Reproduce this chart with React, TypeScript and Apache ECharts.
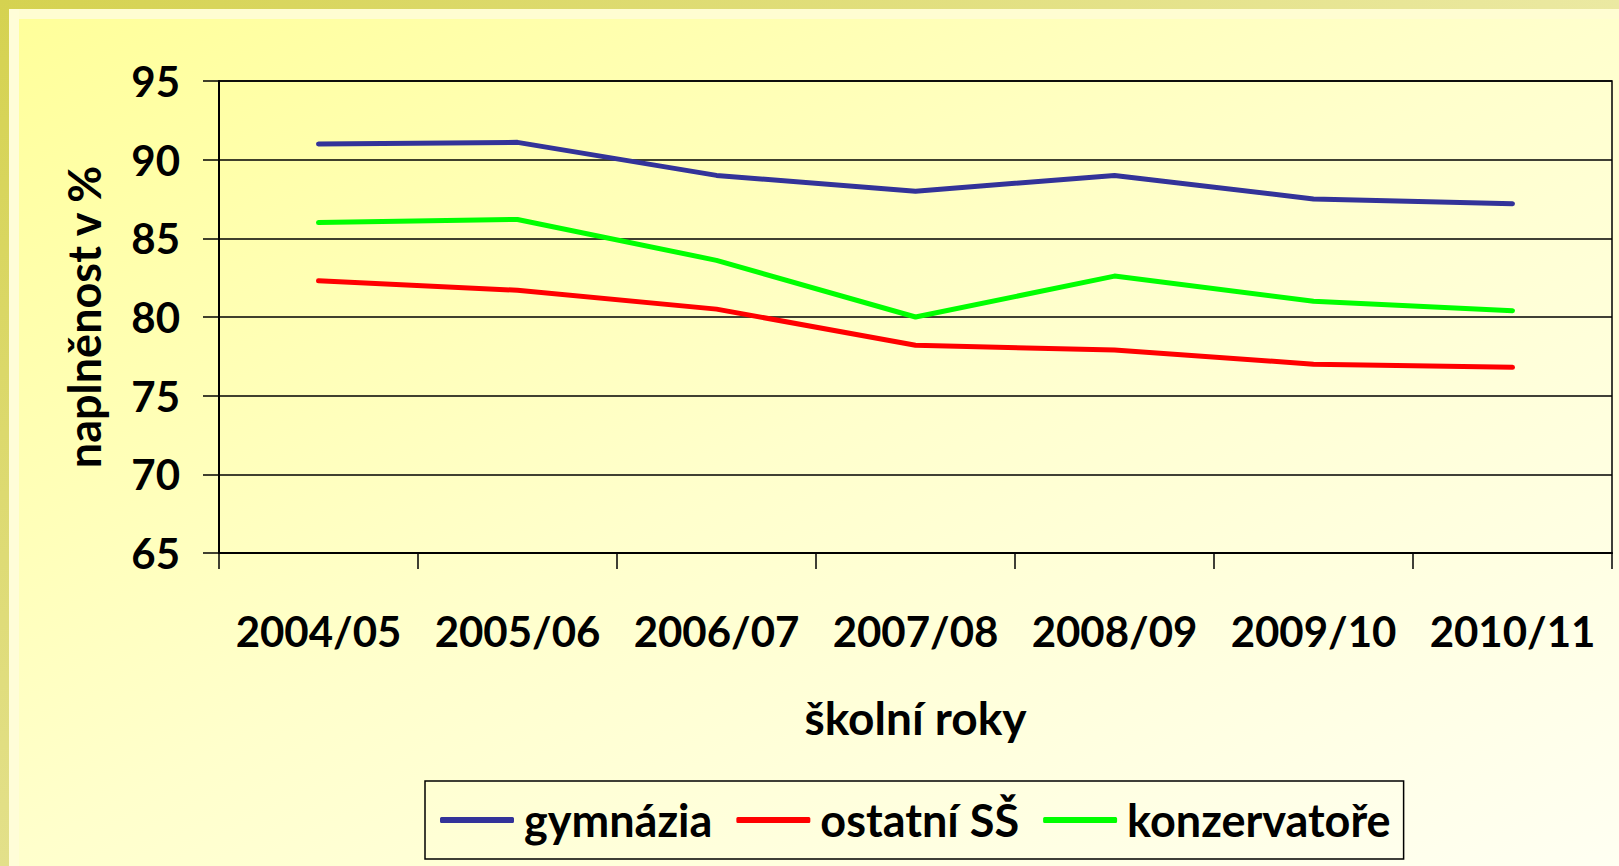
import React, { useEffect, useRef } from "react";
import * as echarts from "echarts";

const categories = ["2004/05", "2005/06", "2006/07", "2007/08", "2008/09", "2009/10", "2010/11"];
const gymnazia = [91.0, 91.1, 89.0, 88.0, 89.0, 87.5, 87.2];
const ostatniSS = [82.3, 81.7, 80.5, 78.2, 77.9, 77.0, 76.8];
const konzervatore = [86.0, 86.2, 83.6, 80.0, 82.6, 81.0, 80.4];
const seriesNames = ["gymnázia", "ostatní SŠ", "konzervatoře"];
const seriesColors = ["#333399", "#ff0000", "#00ff00"];
const yTicks = { min: 65, max: 95, interval: 5 };

const FONT = "Lato";

export default function App() {
  const ref = useRef<HTMLDivElement>(null);
  useEffect(() => {
    if (!ref.current) return;
    const chart = echarts.init(ref.current, null, { renderer: "svg" });
    const data = [gymnazia, ostatniSS, konzervatore];
    chart.setOption({
      animation: false,
      backgroundColor: new echarts.graphic.LinearGradient(0, 0, 1, 1, [
        { offset: 0, color: "#ffff99" },
        { offset: 0.5, color: "#ffffcc" },
        { offset: 1, color: "#fffff2" },
      ]),
      graphic: [
        {
          type: "rect",
          shape: { x: 0, y: 0, width: 1619, height: 9 },
          style: {
            fill: new echarts.graphic.LinearGradient(0, 0, 1, 0, [
              { offset: 0, color: "#d5d250" },
              { offset: 1, color: "#ebe9a2" },
            ]),
          },
          silent: true,
        },
        {
          type: "rect",
          shape: { x: 0, y: 0, width: 9, height: 866 },
          style: {
            fill: new echarts.graphic.LinearGradient(0, 0, 0, 1, [
              { offset: 0, color: "#d5d250" },
              { offset: 1, color: "#e3e08a" },
            ]),
          },
          silent: true,
        },
        {
          type: "rect",
          shape: { x: 9, y: 9, width: 1610, height: 10 },
          style: { fill: "#fffdd2" },
          silent: true,
        },
        {
          type: "rect",
          shape: { x: 9, y: 9, width: 10, height: 857 },
          style: { fill: "#fffdd8" },
          silent: true,
        },
      ],
      grid: {
        left: 219,
        top: 81,
        right: 7,
        bottom: 313,
        show: true,
        borderColor: "#000",
        borderWidth: 1.5,
        backgroundColor: "transparent",
      },
      legend: {
        left: 425,
        top: 781,
        orient: "horizontal",
        padding: [14, 13, 14, 15],
        borderColor: "#000",
        borderWidth: 1.5,
        itemGap: 24,
        itemWidth: 74,
        itemHeight: 6,
        icon: "roundRect",
        textStyle: {
          fontFamily: FONT,
          fontWeight: "bold",
          fontSize: 45,
          lineHeight: 46,
          color: "#000",
          padding: [4, 0, 0, 5],
        },
        data: seriesNames,
      },
      xAxis: {
        type: "category",
        data: categories,
        boundaryGap: true,
        name: "školní roky",
        nameLocation: "middle",
        nameGap: 141,
        nameTextStyle: { fontFamily: FONT, fontWeight: "bold", fontSize: 46, color: "#000", lineHeight: 46 },
        axisLine: { show: true, lineStyle: { color: "#000", width: 2 } },
        axisTick: { show: true, length: 16, interval: 0, lineStyle: { color: "#000", width: 1.5 } },
        axisLabel: {
          interval: 0,
          margin: 57,
          fontFamily: FONT,
          fontWeight: "bold",
          fontSize: 42,
          lineHeight: 42,
          color: "#000",
        },
        splitLine: { show: false },
      },
      yAxis: {
        type: "value",
        min: yTicks.min,
        max: yTicks.max,
        interval: yTicks.interval,
        name: "naplněnost v %",
        nameLocation: "middle",
        nameGap: 113,
        nameRotate: 90,
        nameTextStyle: { fontFamily: FONT, fontWeight: "bold", fontSize: 45, color: "#000", lineHeight: 45 },
        axisLine: { show: true, lineStyle: { color: "#000", width: 2 } },
        axisTick: { show: true, length: 16, lineStyle: { color: "#000", width: 1.5 } },
        axisLabel: {
          margin: 39,
          fontFamily: FONT,
          fontWeight: "bold",
          fontSize: 42,
          color: "#000",
        },
        splitLine: { show: true, lineStyle: { color: "#000", width: 1.5 } },
      },
      series: seriesNames.map((name, i) => ({
        name,
        type: "line",
        data: data[i],
        symbol: "none",
        color: seriesColors[i],
        lineStyle: { color: seriesColors[i], width: 5, cap: "round", join: "round" },
      })),
    });
    return () => chart.dispose();
  }, []);
  return (
    <div
      ref={ref}
      style={{ position: "absolute", left: 0, top: 0, width: 1619, height: 866 }}
    />
  );
}
